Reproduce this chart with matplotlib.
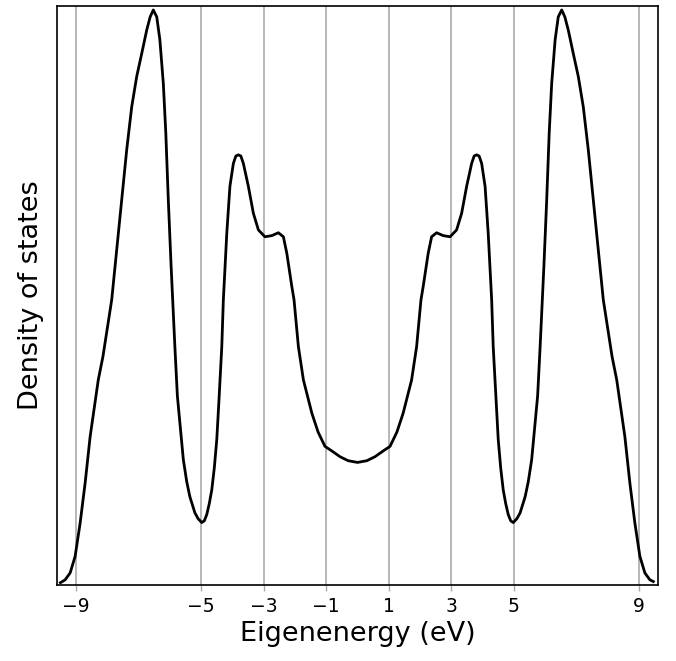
import matplotlib
matplotlib.use("Agg")
import matplotlib.pyplot as plt

# values (energy in eV, DOS in arbitrary units, peak = 1)
energy = [-9.50, -9.35, -9.19, -9.03, -8.87, -8.71, -8.55, -8.29, -8.14, -7.86,
          -7.70, -7.54, -7.38, -7.22, -7.06, -6.90, -6.74, -6.63, -6.53, -6.42,
          -6.32, -6.21, -6.13, -6.05, -5.96, -5.91, -5.84, -5.76, -5.63, -5.57,
          -5.51, -5.46, -5.36, -5.20, -5.10, -4.98, -4.90, -4.82, -4.74, -4.66,
          -4.58, -4.50, -4.43, -4.34, -4.29, -4.18, -4.08, -3.97, -3.89, -3.81,
          -3.73, -3.65, -3.49, -3.33, -3.17, -2.96, -2.74, -2.53, -2.37, -2.26,
          -2.10, -2.03, -1.89, -1.73, -1.46, -1.26, -1.04, -0.82, -0.56, -0.30,
          0.00,
          0.30, 0.56, 0.82, 1.04, 1.26, 1.46, 1.73, 1.89, 2.03, 2.10,
          2.26, 2.37, 2.53, 2.74, 2.96, 3.17, 3.33, 3.49, 3.65, 3.73,
          3.81, 3.89, 3.97, 4.08, 4.18, 4.29, 4.34, 4.43, 4.50, 4.58,
          4.66, 4.74, 4.82, 4.90, 4.98, 5.10, 5.20, 5.36, 5.46, 5.51,
          5.57, 5.63, 5.76, 5.84, 5.91, 5.96, 6.05, 6.13, 6.21, 6.32,
          6.42, 6.53, 6.63, 6.74, 6.90, 7.06, 7.22, 7.38, 7.54, 7.70,
          7.86, 8.14, 8.29, 8.55, 8.71, 8.87, 9.03, 9.19, 9.35, 9.46]
dos = [0.000, 0.005, 0.017, 0.046, 0.104, 0.174, 0.255, 0.354, 0.395, 0.494,
       0.581, 0.668, 0.756, 0.831, 0.884, 0.924, 0.965, 0.988, 1.000, 0.988,
       0.948, 0.872, 0.785, 0.668, 0.552, 0.494, 0.412, 0.326, 0.250, 0.215,
       0.194, 0.176, 0.150, 0.122, 0.112, 0.105, 0.108, 0.119, 0.138, 0.162,
       0.200, 0.250, 0.319, 0.412, 0.494, 0.610, 0.692, 0.732, 0.745, 0.747,
       0.745, 0.732, 0.692, 0.645, 0.616, 0.604, 0.606, 0.611, 0.604, 0.575,
       0.517, 0.494, 0.412, 0.354, 0.296, 0.263, 0.238, 0.230, 0.220, 0.213,
       0.210,
       0.213, 0.220, 0.230, 0.238, 0.263, 0.296, 0.354, 0.412, 0.494, 0.517,
       0.575, 0.604, 0.611, 0.606, 0.604, 0.616, 0.645, 0.692, 0.732, 0.745,
       0.747, 0.745, 0.732, 0.692, 0.610, 0.494, 0.412, 0.319, 0.250, 0.200,
       0.162, 0.138, 0.119, 0.108, 0.105, 0.112, 0.122, 0.150, 0.176, 0.194,
       0.215, 0.250, 0.326, 0.412, 0.494, 0.552, 0.668, 0.785, 0.872, 0.948,
       0.988, 1.000, 0.988, 0.965, 0.924, 0.884, 0.831, 0.756, 0.668, 0.581,
       0.494, 0.395, 0.354, 0.255, 0.174, 0.104, 0.046, 0.017, 0.005, 0.002]

xticks = [-9, -5, -3, -1, 1, 3, 5, 9]
xticklabels = ["\u22129", "\u22125", "\u22123", "\u22121", "1", "3", "5", "9"]

plt.rcParams['font.family'] = ['DejaVu Sans']

fig = plt.figure(figsize=(6.76, 6.61), dpi=100)
ax = fig.add_axes([0.0843, 0.115, 0.8891, 0.876])

ax.plot(energy, dos, color="black", lw=2, solid_joinstyle="round")

ax.set_xlim(-9.61, 9.61)
ax.set_ylim(-0.004, 1.007)
ax.set_xticks(xticks)
ax.set_xticklabels(xticklabels)
ax.set_yticks([])
ax.tick_params(axis="x", direction="out", length=4, width=1, color="#aaaaaa",
               labelsize=13.5, pad=5)
ax.grid(True, axis="x", color="#aaaaaa", lw=1.2)
ax.set_axisbelow(True)
for s in ax.spines.values():
    s.set_linewidth(1.2)

ax.set_xlabel("Eigenenergy (eV)", fontsize=19.5, labelpad=3)
ax.set_ylabel("Density of states", fontsize=19.5, labelpad=9)

fig.savefig("out.png", dpi=100)
